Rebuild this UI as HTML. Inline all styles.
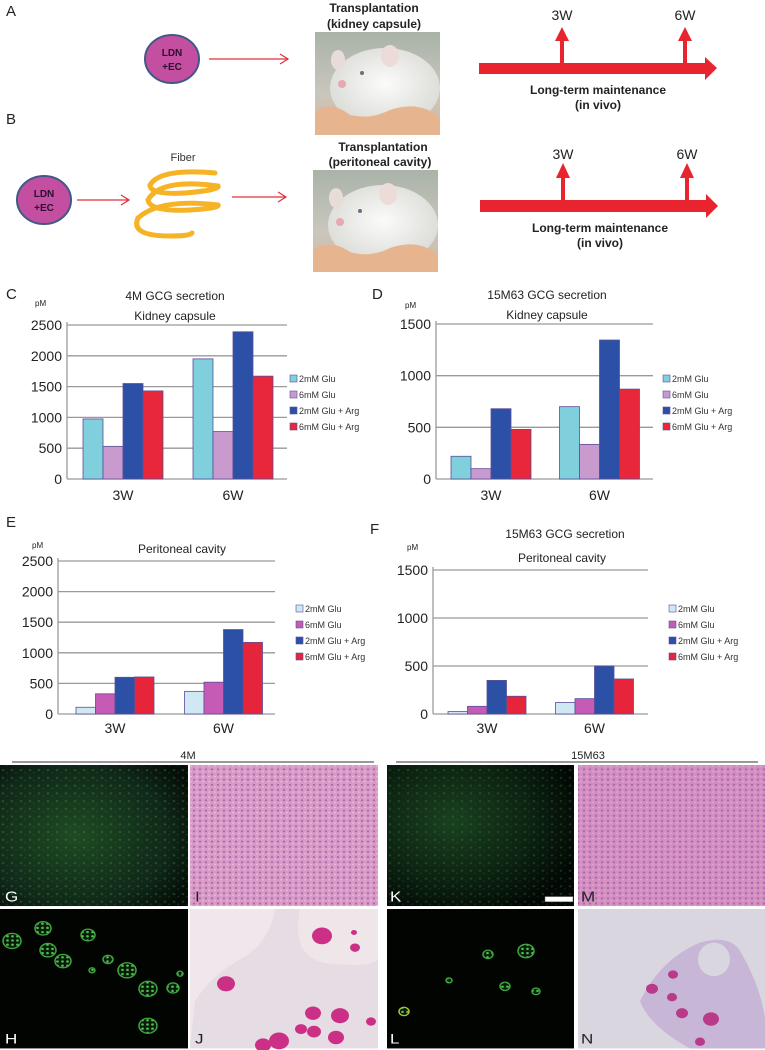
<!DOCTYPE html>
<html><head><meta charset="utf-8"><style>
html,body{margin:0;padding:0;background:#fff;}
svg{display:block;font-family:"Liberation Sans",Arial,sans-serif;}
</style></head><body>
<svg id="fig" width="765" height="1050" viewBox="0 0 765 1050" xmlns="http://www.w3.org/2000/svg">
<defs>
<linearGradient id="photoBg" x1="0" y1="0" x2="0" y2="1"><stop offset="0" stop-color="#a9b3a8"/><stop offset="0.6" stop-color="#c9c6bd"/><stop offset="1" stop-color="#d9b69a"/></linearGradient>
<radialGradient id="mouseBody" cx="0.5" cy="0.45" r="0.6"><stop offset="0" stop-color="#fbfbfa"/><stop offset="1" stop-color="#d8d8d4"/></radialGradient>
<radialGradient id="fluo1" cx="0.4" cy="0.5" r="0.7"><stop offset="0" stop-color="#1f4a22"/><stop offset="0.7" stop-color="#10281a"/><stop offset="1" stop-color="#060d08"/></radialGradient>
<radialGradient id="fluo2" cx="0.35" cy="0.4" r="0.7"><stop offset="0" stop-color="#1a4020"/><stop offset="0.6" stop-color="#0c2212"/><stop offset="1" stop-color="#030805"/></radialGradient>
<pattern id="he" width="6" height="6" patternUnits="userSpaceOnUse"><rect width="6" height="6" fill="#d99ac8"/><circle cx="2" cy="2" r="1.2" fill="#a86aa8"/><circle cx="5" cy="4.5" r="0.8" fill="#f0c4e0"/></pattern>
<pattern id="greenDots" width="9" height="9" patternUnits="userSpaceOnUse"><circle cx="3" cy="3" r="1.3" fill="#3a9a3a" opacity="0.8"/><circle cx="7" cy="6" r="1" fill="#2d7a2f" opacity="0.7"/></pattern>
<pattern id="ring" width="5" height="5" patternUnits="userSpaceOnUse"><rect width="5" height="5" fill="#0a1a0a"/><circle cx="2.5" cy="2.5" r="1.4" fill="#4cc04c"/></pattern>
</defs>

<!-- Panel A -->
<text x="6" y="16" font-size="15" fill="#222">A</text>
<ellipse cx="172" cy="59" rx="27" ry="24" fill="#c44ea0" stroke="#3f5a86" stroke-width="2"/>
<text x="172" y="56" font-size="10" font-weight="bold" text-anchor="middle" fill="#2a1030">LDN</text>
<text x="172" y="70" font-size="10" font-weight="bold" text-anchor="middle" fill="#2a1030">+EC</text>
<g stroke="#e0303a" stroke-width="1.2" fill="none"><line x1="209" y1="59" x2="288" y2="59"/><polyline points="280,54 288,59 280,64"/></g>
<text x="374" y="12" font-size="12" font-weight="bold" text-anchor="middle" fill="#222">Transplantation</text>
<text x="374" y="28" font-size="12" font-weight="bold" text-anchor="middle" fill="#222">(kidney capsule)</text>
<g>
<rect x="315" y="32" width="125" height="103" fill="url(#photoBg)"/>
<ellipse cx="385" cy="88" rx="55" ry="40" fill="url(#mouseBody)"/>
<ellipse cx="338" cy="60" rx="7" ry="10" fill="#e8dcd8"/><ellipse cx="390" cy="56" rx="9" ry="11" fill="#ecdcd8"/>
<circle cx="362" cy="73" r="2" fill="#6a7080"/><circle cx="342" cy="84" r="4" fill="#e7a9b0"/>
<path d="M315 135 L315 112 Q330 100 350 115 Q370 120 390 110 Q420 100 440 118 L440 135 Z" fill="#e6b58f"/>
</g>
<g fill="#e8252f">
<rect x="479" y="63" width="230" height="11"/><polygon points="705,57 717,68 705,80"/>
<rect x="560" y="36" width="4" height="28"/><polygon points="555,41 562,27 569,41"/>
<rect x="683" y="36" width="4" height="28"/><polygon points="678,41 685,27 692,41"/>
</g>
<text x="562" y="20" font-size="14" text-anchor="middle" fill="#222">3W</text>
<text x="685" y="20" font-size="14" text-anchor="middle" fill="#222">6W</text>
<text x="598" y="94" font-size="12" font-weight="bold" text-anchor="middle" fill="#222">Long-term maintenance</text>
<text x="598" y="109" font-size="12" font-weight="bold" text-anchor="middle" fill="#222">(in vivo)</text>

<!-- Panel B -->
<text x="6" y="124" font-size="15" fill="#222">B</text>
<ellipse cx="44" cy="200" rx="27" ry="24" fill="#c44ea0" stroke="#3f5a86" stroke-width="2"/>
<text x="44" y="197" font-size="10" font-weight="bold" text-anchor="middle" fill="#2a1030">LDN</text>
<text x="44" y="211" font-size="10" font-weight="bold" text-anchor="middle" fill="#2a1030">+EC</text>
<g stroke="#e0303a" stroke-width="1.2" fill="none"><line x1="77" y1="200" x2="129" y2="200"/><polyline points="121,195 129,200 121,205"/></g>
<text x="183" y="161" font-size="11" text-anchor="middle" fill="#333">Fiber</text>
<g fill="none" stroke="#f5b325" stroke-width="5" stroke-linecap="round">
<path d="M215 173 Q160 168 150 185 Q150 195 185 193 Q220 190 218 186"/>
<path d="M218 186 Q160 178 148 200 Q150 212 190 210 Q220 208 218 205"/>
<path d="M218 205 Q160 198 138 218 Q130 236 170 236 Q190 236 192 233"/>
</g>
<g stroke="#e0303a" stroke-width="1.2" fill="none"><line x1="232" y1="197" x2="286" y2="197"/><polyline points="278,192 286,197 278,202"/></g>
<text x="383" y="151" font-size="12" font-weight="bold" text-anchor="middle" fill="#222">Transplantation</text>
<text x="380" y="166" font-size="12" font-weight="bold" text-anchor="middle" fill="#222">(peritoneal cavity)</text>
<g>
<rect x="313" y="170" width="125" height="102" fill="url(#photoBg)"/>
<ellipse cx="383" cy="225" rx="55" ry="40" fill="url(#mouseBody)"/>
<ellipse cx="336" cy="198" rx="7" ry="10" fill="#e8dcd8"/><ellipse cx="388" cy="194" rx="9" ry="11" fill="#ecdcd8"/>
<circle cx="360" cy="211" r="2" fill="#6a7080"/><circle cx="340" cy="222" r="4" fill="#e7a9b0"/>
<path d="M313 272 L313 250 Q330 238 350 252 Q370 258 390 248 Q420 238 438 256 L438 272 Z" fill="#e6b58f"/>
</g>
<g fill="#e8252f">
<rect x="480" y="200" width="230" height="12"/><polygon points="706,194 718,206 706,218"/>
<rect x="561" y="174" width="4" height="27"/><polygon points="556,178 563,163 570,178"/>
<rect x="685" y="174" width="4" height="27"/><polygon points="680,178 687,163 694,178"/>
</g>
<text x="563" y="159" font-size="14" text-anchor="middle" fill="#222">3W</text>
<text x="687" y="159" font-size="14" text-anchor="middle" fill="#222">6W</text>
<text x="600" y="232" font-size="12" font-weight="bold" text-anchor="middle" fill="#222">Long-term maintenance</text>
<text x="600" y="247" font-size="12" font-weight="bold" text-anchor="middle" fill="#222">(in vivo)</text>

<!-- Chart titles/labels -->
<text x="6" y="299" font-size="15" fill="#222">C</text>
<text x="175" y="300" font-size="12" text-anchor="middle" fill="#222">4M GCG secretion</text>
<text x="175" y="320" font-size="12" text-anchor="middle" fill="#222">Kidney capsule</text>
<text x="35" y="306" font-size="8" fill="#222">pM</text>
<text x="372" y="299" font-size="15" fill="#222">D</text>
<text x="547" y="299" font-size="12" text-anchor="middle" fill="#222">15M63 GCG secretion</text>
<text x="547" y="319" font-size="12" text-anchor="middle" fill="#222">Kidney capsule</text>
<text x="405" y="308" font-size="8" fill="#222">pM</text>
<text x="6" y="527" font-size="15" fill="#222">E</text>
<text x="182" y="553" font-size="12" text-anchor="middle" fill="#222">Peritoneal cavity</text>
<text x="32" y="548" font-size="8" fill="#222">pM</text>
<text x="370" y="534" font-size="15" fill="#222">F</text>
<text x="565" y="538" font-size="12" text-anchor="middle" fill="#222">15M63  GCG secretion</text>
<text x="562" y="562" font-size="12" text-anchor="middle" fill="#222">Peritoneal cavity</text>
<text x="407" y="550" font-size="8" fill="#222">pM</text>

<g id="charts"></g>

<!-- Histology -->
<text x="188" y="759" font-size="11" text-anchor="middle" fill="#222">4M</text>
<line x1="12" y1="762" x2="374" y2="762" stroke="#333" stroke-width="1"/>
<text x="588" y="759" font-size="11" text-anchor="middle" fill="#222">15M63</text>
<line x1="396" y1="762" x2="758" y2="762" stroke="#333" stroke-width="1"/>

<g transform="translate(0,765) scale(1,0.86) translate(0,-573)">
<g>
<rect x="0" y="573" width="188" height="164" fill="url(#fluo1)"/>
<rect x="0" y="573" width="188" height="164" fill="url(#greenDots)" opacity="0.45"/>
<text x="5" y="732" font-size="17" fill="#fff">G</text></g>
<g>
<rect x="190" y="573" width="188" height="164" fill="url(#he)"/>
<text x="195" y="732" font-size="17" fill="#222">I</text></g>
<g>
<rect x="387" y="573" width="187" height="164" fill="url(#fluo2)"/>
<rect x="387" y="573" width="187" height="164" fill="url(#greenDots)" opacity="0.35"/>
<rect x="545" y="726" width="28" height="6" fill="#fff" stroke="#666" stroke-width="0.5"/>
<text x="390" y="732" font-size="17" fill="#fff">K</text></g>
<g>
<rect x="578" y="573" width="187" height="164" fill="url(#he)"/>
<rect x="578" y="573" width="187" height="164" fill="#c060a8" opacity="0.2"/>
<text x="581" y="732" font-size="17" fill="#222">M</text></g>
</g>

<g transform="translate(0,909) scale(1,0.84) translate(0,-740)">
<g>
<rect x="0" y="740" width="188" height="166" fill="#020402"/>
<g fill="url(#ring)" stroke="#3fa83f" stroke-width="1.5">
<circle cx="12" cy="778" r="9"/><circle cx="43" cy="763" r="8"/><circle cx="88" cy="771" r="7"/><circle cx="48" cy="789" r="8"/><circle cx="63" cy="802" r="8"/><circle cx="108" cy="800" r="5"/><circle cx="127" cy="813" r="9"/><circle cx="148" cy="835" r="9"/><circle cx="173" cy="834" r="6"/><circle cx="148" cy="879" r="9"/><circle cx="92" cy="813" r="3"/><circle cx="180" cy="817" r="3"/></g>
<text x="5" y="900" font-size="17" fill="#fff">H</text></g>
<g>
<rect x="190" y="740" width="188" height="166" fill="#e6dde4"/>
<path d="M190 740 L275 740 Q270 780 240 800 Q210 820 195 850 L190 906 Z" fill="#efe7ec"/>
<path d="M300 740 Q290 800 330 805 Q370 810 378 800 L378 740 Z" fill="#efe6ea"/>
<g fill="#cc2f86"><circle cx="322" cy="772" r="10"/><circle cx="355" cy="786" r="5"/><circle cx="354" cy="768" r="3"/><circle cx="226" cy="829" r="9"/><circle cx="313" cy="864" r="8"/><circle cx="340" cy="867" r="9"/><circle cx="371" cy="874" r="5"/><circle cx="301" cy="883" r="6"/><circle cx="314" cy="886" r="7"/><circle cx="336" cy="893" r="8"/><circle cx="263" cy="902" r="8"/><circle cx="279" cy="897" r="10"/></g>
<text x="195" y="900" font-size="17" fill="#222">J</text></g>
<g>
<rect x="387" y="740" width="187" height="166" fill="#020402"/>
<g fill="url(#ring)" stroke="#3fa83f" stroke-width="1.5">
<circle cx="526" cy="790" r="8"/><circle cx="488" cy="794" r="5"/><circle cx="449" cy="825" r="3"/><circle cx="505" cy="832" r="5"/><circle cx="404" cy="862" r="5" stroke="#b8c030"/><circle cx="536" cy="838" r="4"/></g>
<text x="390" y="900" font-size="17" fill="#fff">L</text></g>
<g>
<rect x="578" y="740" width="187" height="166" fill="#d9d6df"/>
<path d="M640 850 Q660 800 700 780 Q730 770 740 790 Q760 830 765 870 L765 906 L690 906 Q650 880 640 850 Z" fill="#c8b6d6"/>
<ellipse cx="714" cy="800" rx="16" ry="20" fill="#d9d6df"/>
<g fill="#b83a88"><circle cx="673" cy="818" r="5"/><circle cx="652" cy="835" r="6"/><circle cx="672" cy="845" r="5"/><circle cx="682" cy="864" r="6"/><circle cx="711" cy="871" r="8"/><circle cx="700" cy="898" r="5"/></g>
<text x="581" y="900" font-size="17" fill="#222">N</text></g>
</g>
</svg>
<script>
var categories = ["3W", "6W"];
var seriesNames = ["2mM Glu", "6mM Glu", "2mM Glu + Arg", "6mM Glu + Arg"];
var ticksC = [0, 500, 1000, 1500, 2000, 2500];
var ticksD = [0, 500, 1000, 1500];
var cGlu2 = [975, 1950];
var cGlu6 = [530, 770];
var cGlu2Arg = [1550, 2390];
var cGlu6Arg = [1430, 1670];
var dGlu2 = [220, 700];
var dGlu6 = [100, 335];
var dGlu2Arg = [680, 1345];
var dGlu6Arg = [480, 870];
var eGlu2 = [110, 370];
var eGlu6 = [330, 520];
var eGlu2Arg = [600, 1380];
var eGlu6Arg = [605, 1170];
var fGlu2 = [25, 120];
var fGlu6 = [80, 160];
var fGlu2Arg = [350, 500];
var fGlu6Arg = [185, 365];

var NS = "http://www.w3.org/2000/svg";
var root = document.getElementById("charts");
function mk(tag, attrs, parent) {
  var el = document.createElementNS(NS, tag);
  for (var k in attrs) el.setAttribute(k, attrs[k]);
  (parent || root).appendChild(el);
  return el;
}
function drawChart(id, cfg, series, ticks, colors) {
  var g = mk("g", {});
  
  
  var maxV = ticks[ticks.length - 1];
  function y(v) { return cfg.yBot - (v / maxV) * (cfg.yBot - cfg.yTop); }
  var band = (cfg.x1 - cfg.x0) / categories.length;
  ticks.forEach(function (t) {
    if (t > 0) {
      var gl = mk("line", {x1: cfg.x0, x2: cfg.x1, y1: y(t), y2: y(t), stroke: "#9a9a9a", "stroke-width": 1.3}, g);
      
      
    }
    var tl = mk("text", {x: cfg.x0 - 5, y: y(t) + 5, "font-size": 14, "text-anchor": "end", fill: "#222"}, g);
    tl.textContent = t;
    
    
  });
  var ax = mk("line", {x1: cfg.x0, x2: cfg.x0, y1: cfg.yTop - 3, y2: cfg.yBot, stroke: "#9a9a9a", "stroke-width": 1.3}, g);
  
  
  var bx = mk("line", {x1: cfg.x0, x2: cfg.x1, y1: cfg.yBot, y2: cfg.yBot, stroke: "#9a9a9a", "stroke-width": 1.3}, g);
  
  
  categories.forEach(function (c, ci) {
    var gs = cfg.x0 + ci * band + cfg.off;
    series.forEach(function (s, si) {
      var v = s[ci];
      var r = mk("rect", {x: gs + si * cfg.bw, y: y(v), width: cfg.bw, height: cfg.yBot - y(v), fill: colors[si], stroke: "#5c4e9a", "stroke-width": 0.8}, g);
      
      
    });
    var cl = mk("text", {x: gs + 2 * cfg.bw, y: cfg.labY, "font-size": 14, "text-anchor": "middle", fill: "#222"}, g);
    cl.textContent = c;
    
    
  });
  seriesNames.forEach(function (n, si) {
    var ly = cfg.legY + si * 16;
    var sw = mk("rect", {x: cfg.legX, y: ly - 7, width: 7, height: 7, fill: colors[si], stroke: "#5c4e9a", "stroke-width": 0.6}, g);
    
    
    var lt = mk("text", {x: cfg.legX + 9, y: ly, "font-size": 9, fill: "#333"}, g);
    lt.textContent = n;
    
    
  });
}
var colKidney = ["#7fcfdc", "#c99acd", "#2c50a6", "#e9273a"];
var colPerit = ["#cfe8f3", "#c55bb4", "#2c50a6", "#e6253a"];
drawChart("c", {x0: 67, x1: 287, yTop: 325, yBot: 479, off: 16, bw: 20, labY: 500, legX: 290, legY: 382}, [cGlu2, cGlu6, cGlu2Arg, cGlu6Arg], ticksC, colKidney);
drawChart("d", {x0: 436, x1: 653, yTop: 324, yBot: 479, off: 15, bw: 20, labY: 500, legX: 663, legY: 382}, [dGlu2, dGlu6, dGlu2Arg, dGlu6Arg], ticksD, colKidney);
drawChart("e", {x0: 58, x1: 275, yTop: 561, yBot: 714, off: 18, bw: 19.5, labY: 733, legX: 296, legY: 612}, [eGlu2, eGlu6, eGlu2Arg, eGlu6Arg], ticksC, colPerit);
drawChart("f", {x0: 433, x1: 648, yTop: 570, yBot: 714, off: 15, bw: 19.5, labY: 733, legX: 669, legY: 612}, [fGlu2, fGlu6, fGlu2Arg, fGlu6Arg], ticksD, colPerit);
</script>
</body></html>
